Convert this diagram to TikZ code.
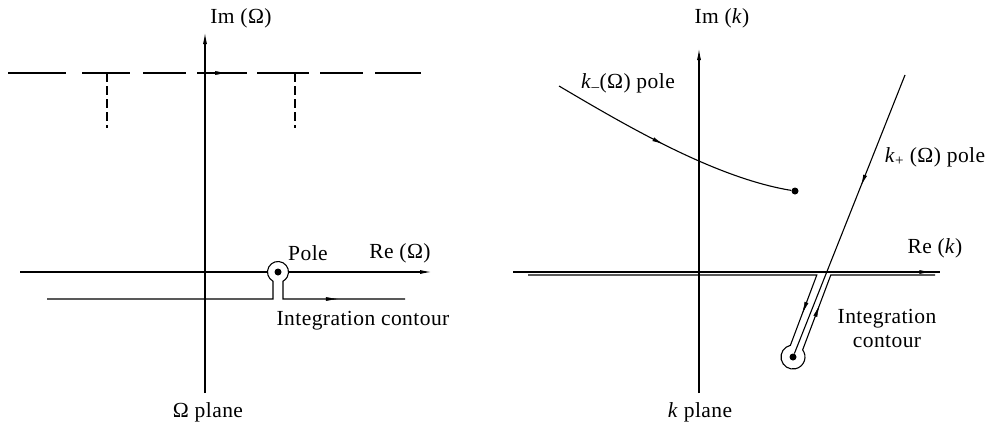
\documentclass[tikz,border=0pt]{standalone}
\usepackage{fontspec}
\setmainfont{Liberation Serif}[LetterSpace=2]
\usetikzlibrary{arrows.meta,decorations.markings,calc}

\begin{document}
\begin{tikzpicture}[
    x=1pt,y=-1pt,
    >={Latex[length=12pt,width=4pt]},
    ax/.style={line width=1.2pt},
    cont/.style={line width=1.1pt},
    lbl/.style={font=\fontsize{21.5}{24}\selectfont,inner sep=0pt},
    midtip/.style={postaction={decorate,decoration={markings,mark=at position #1 with {\arrow{>}}}}},
    pt/.style={circle,fill,inner sep=0pt,minimum size=7pt}
    ]
    \useasboundingbox (0,0) rectangle (991,426);

    \node[pt] (polO) at (278,272) {};
    \coordinate (imOb) at (205,393);
    \coordinate (imOt) at (205,32);
    \coordinate (reOl) at (20,272);
    \coordinate (reOr) at (432,272);
    \coordinate (cOl) at (47,299);
    \coordinate (cOr) at (405,299);
    \coordinate (kOl) at (273,299);
    \coordinate (kOr) at (283,299);

    \draw[ax,->] (imOb) -- (imOt);
    \draw[ax] (reOl) -- ($(polO)+(-10.5,0)$);
    \draw[ax,->] ($(polO)+(10.5,0)$) -- (reOr);
    \draw[cont] (cOl) -- (kOl) -- ($(polO)+(-5,9.23)$)
        arc[start angle=118.4,end angle=421.6,radius=10.5] -- (kOr) -- (cOr);
    \path[midtip=0.45] (kOr) -- (cOr);

    \foreach \a/\b in {8/66,82/130,143/186,197/247,257/309,320/363,375/421}
        \draw[cont] (\a,73) -- (\b,73);
    \path[midtip=0.6] (197,73) -- (247,73);
    \draw[cont,dash pattern=on 9pt off 4pt] (107,73) -- (107,128);
    \draw[cont,dash pattern=on 9pt off 4pt] (295,73) -- (295,128);

    \node[lbl] (imOl) at (241,18) {Im (Ω)};
    \node[lbl] (poleO) at (308,253) {Pole};
    \node[lbl] (reOlb) at (400,253) {Re (Ω)};
    \node[lbl] (intO) at (363,321) {Integration contour};
    \node[lbl] (plO) at (208,412) {Ω plane};

    \node[pt] (polKm) at (795,191) {};
    \node[pt] (polKp) at (793,357) {};
    \coordinate (imKb) at (699,393);
    \coordinate (imKt) at (699,48);
    \coordinate (reKl) at (513,272);
    \coordinate (reKr) at (940,272);
    \coordinate (kmS) at (559,86);
    \coordinate (kpS) at (905,75);
    \coordinate (cKl) at (528,275);
    \coordinate (cKr) at (935,275);
    \coordinate (lgLt) at (816.8,275);
    \coordinate (lgLb) at (790.4,345.3);
    \coordinate (lgRb) at (802.6,349.9);
    \coordinate (lgRt) at (830.8,275);

    \draw[ax,->] (imKb) -- (imKt);
    \draw[ax,midtip=0.98] (reKl) -- (reKr);
    \draw[cont,midtip=0.47] (kmS) .. controls (625,125) and (715,178) .. (polKm);
    \draw[cont,midtip=0.4] (kpS) -- (polKp);
    \draw[cont] (cKl) -- (lgLt) -- (lgLb)
        arc[start angle=257.5,end angle=-36.5,radius=12] -- (lgRt) -- (cKr);
    \path[midtip=0.55] (lgLt) -- (lgLb);
    \path[midtip=0.6] (lgRb) -- (lgRt);

    \node[lbl] (imKl) at (722,18) {Im (\textit{k})};
    \node[lbl] (kmL) at (628,83) {\textit{k}\textsubscript{–}(Ω) pole};
    \node[lbl] (kpL) at (935,157) {\textit{k}\textsubscript{+} (Ω) pole};
    \node[lbl] (reKlb) at (935,248) {Re (\textit{k})};
    \node[lbl,align=center] (intK) at (887,328) {Integration\\contour};
    \node[lbl] (plK) at (700,412) {\textit{k} plane};
\end{tikzpicture}
\end{document}
